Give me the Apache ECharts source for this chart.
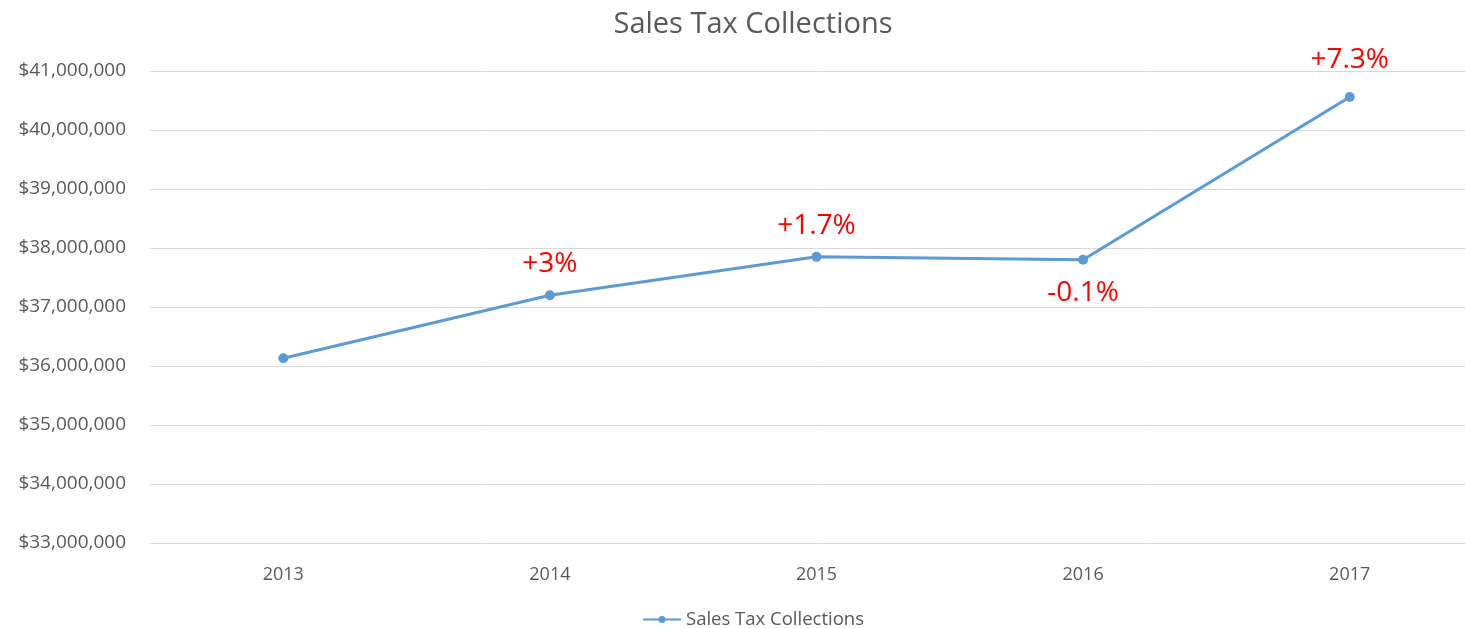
<!DOCTYPE html>
<html>
<head>
<meta charset="utf-8">
<script src="https://cdn.jsdelivr.net/npm/echarts@6/dist/echarts.min.js"></script>
<style>
  html, body { margin: 0; padding: 0; background: #fff; overflow: hidden; }
  #main { width: 1506px; height: 628px; }
</style>
</head>
<body>
<div id="main"></div>
<script>
var years = ['2013', '2014', '2015', '2016', '2017'];
var collections = [36130000, 37200000, 37850000, 37800000, 40560000];
var changeLabels = ['', '+3%', '+1.7%', '-0.1%', '+7.3%'];
var labelBelow = [false, false, false, true, false];
var labelGap = [0, 12, 12, 14, 18];

var textColor = '#595959';
var fontFamily = 'Open Sans, sans-serif';

var points = collections.map(function (v, i) {
    return {
        value: v,
        label: {
            show: changeLabels[i] !== '',
            formatter: changeLabels[i],
            position: labelBelow[i] ? 'bottom' : 'top',
            distance: labelGap[i]
        }
    };
});

// the original chart is wider than the window and cut at the right edge
var chart = echarts.init(document.getElementById('main'));
chart.setOption({
    animation: false,
    textStyle: { fontFamily: fontFamily },
    title: {
        text: 'Sales Tax Collections',
        left: 'center',
        top: 5,
        textStyle: { color: textColor, fontSize: 29, fontWeight: 'normal', fontFamily: fontFamily }
    },
    legend: {
        bottom: -6,
        left: 'center',
        itemWidth: 38,
        itemHeight: 9,
        itemGap: 4,
        textStyle: { color: textColor, fontSize: 18.5, fontFamily: fontFamily },
        data: ['Sales Tax Collections']
    },
    grid: {
        left: 150,
        top: 71,
        right: 23,
        bottom: 85
    },
    xAxis: {
        type: 'category',
        data: years,
        axisLine: { show: false },
        axisTick: { show: false },
        axisLabel: { color: textColor, fontSize: 18, margin: 23 }
    },
    yAxis: {
        type: 'value',
        min: 33000000,
        max: 41000000,
        interval: 1000000,
        axisLine: { show: false },
        axisTick: { show: false },
        splitLine: { lineStyle: { color: '#d9d9d9', width: 1 } },
        axisLabel: {
            color: textColor,
            fontSize: 19,
            margin: 24,
            formatter: function (v) {
                return '$' + v.toLocaleString('en-US');
            }
        }
    },
    series: [{
        name: 'Sales Tax Collections',
        type: 'line',
        data: points,
        symbol: 'circle',
        symbolSize: 10,
        lineStyle: { color: '#5b9bd5', width: 3 },
        itemStyle: { color: '#5b9bd5' },
        label: {
            color: '#ff0000',
            fontSize: 28,
            fontFamily: fontFamily
        }
    }]
});
</script>
</body>
</html>
